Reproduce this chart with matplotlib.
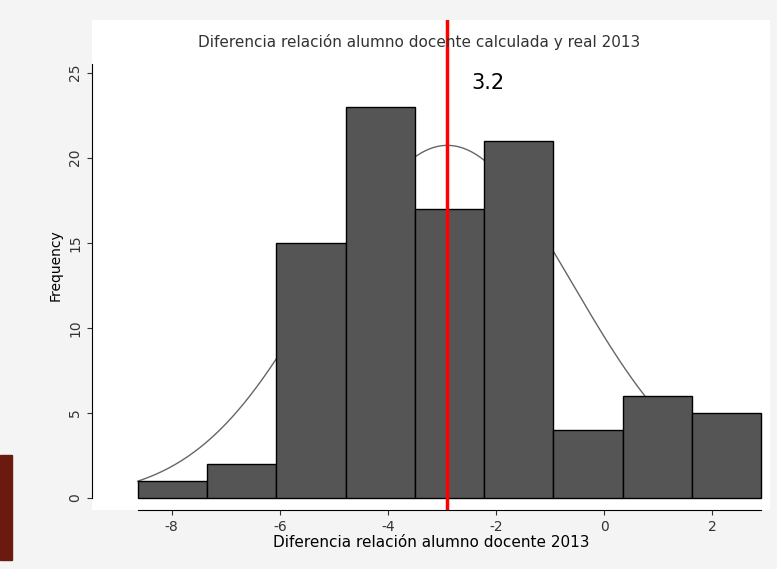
import numpy as np
import matplotlib.pyplot as plt
from matplotlib.patches import Rectangle

plt.rcParams['axes.unicode_minus'] = False

edges = [-8.63, -7.35, -6.07, -4.78, -3.50, -2.22, -0.94, 0.35, 1.63, 2.91]
counts = [1, 2, 15, 23, 17, 21, 4, 6, 5]
mean_val = -2.9
sd_val = 2.32
xticks = [-8, -6, -4, -2, 0, 2]
yticks = [0, 5, 10, 15, 20, 25]

fig = plt.figure(figsize=(7.77, 5.69), dpi=100)
fig.patch.set_facecolor('#f4f4f4')
fig.patches.append(Rectangle((0, 0.015), 0.016, 0.185, transform=fig.transFigure, color='#6b1a10'))
ax = fig.add_axes([0.118, 0.104, 0.873, 0.861])
ax.set_facecolor('white')
w = np.diff(edges)
ax.bar(edges[:-1], counts, width=w, align='edge', color='#555555', edgecolor='black', linewidth=1, zorder=2)
xs = np.linspace(-8.63, 2.91, 300)
n = sum(counts)
ys = n * np.mean(w) / (sd_val * np.sqrt(2 * np.pi)) * np.exp(-0.5 * ((xs - mean_val) / sd_val) ** 2)
ax.plot(xs, ys, color='#666666', lw=1, zorder=1)
ax.axvline(mean_val, color='red', lw=2.5, zorder=3)
ax.text(mean_val + 0.45, 24.4, '3.2', fontsize=15, va='center', family='DejaVu Sans')
ax.set_xlim(-9.48, 3.07)
ax.set_ylim(-0.7, 28.1)
ax.set_xticks(xticks)
ax.set_yticks(yticks)
ax.set_yticklabels([str(t) for t in yticks], rotation=90, va='center')
ax.tick_params(labelsize=10, colors='#333333')
for s in ['top', 'right']:
    ax.spines[s].set_visible(False)
ax.spines['left'].set_bounds(0, 25.5)
ax.spines['bottom'].set_bounds(-8.63, 2.91)
ax.set_xlabel('Diferencia relación alumno docente 2013', fontsize=11, labelpad=1)
ax.set_ylabel('Frequency', fontsize=10)
fig.text(0.54, 1 - 42 / 569, 'Diferencia relación alumno docente calculada y real 2013',
         fontsize=11, color='#333333', ha='center', va='center')
fig.savefig('out.png', dpi=100, facecolor=fig.get_facecolor())
